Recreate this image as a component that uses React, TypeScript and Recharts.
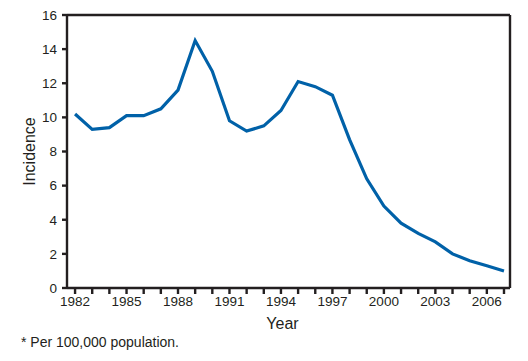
import React from 'react';
import { LineChart, Line, XAxis, YAxis, ReferenceLine } from 'recharts';

const years = [1982, 1983, 1984, 1985, 1986, 1987, 1988, 1989, 1990, 1991, 1992, 1993, 1994, 1995, 1996, 1997, 1998, 1999, 2000, 2001, 2002, 2003, 2004, 2005, 2006, 2007];
const incidence = [10.2, 9.3, 9.4, 10.1, 10.1, 10.5, 11.6, 14.5, 12.7, 9.8, 9.2, 9.5, 10.4, 12.1, 11.8, 11.3, 8.7, 6.4, 4.8, 3.8, 3.2, 2.7, 2.0, 1.6, 1.3, 1.0];
const yTicks = [0, 2, 4, 6, 8, 10, 12, 14, 16];
const xLabelYears = [1982, 1985, 1988, 1991, 1994, 1997, 2000, 2003, 2006];

const data = years.map((y, i) => ({ year: y, value: incidence[i] }));

const FONT = 'Arial, "Liberation Sans", Helvetica, sans-serif';
const AXIS = '#231f20';
const X_MIN = 1981.53;
const X_MAX = 2007.35;

export default function App() {
  return (
    <div style={{ position: 'fixed', left: 0, top: 0, width: 528, height: 361, background: '#fff', fontFamily: FONT }}>
      <LineChart width={528} height={361} data={data} margin={{ top: 15, right: 18, left: 0, bottom: 43 }}>
        <XAxis
          dataKey="year"
          type="number"
          domain={[X_MIN, X_MAX]}
          ticks={years}
          interval={0}
          tickFormatter={(v: number) => (xLabelYears.includes(v) ? String(v) : '')}
          tick={{ fontSize: 13.5, fill: AXIS, fontFamily: FONT }}
          tickSize={6}
          tickMargin={2}
          tickLine={{ stroke: AXIS, strokeWidth: 2.4 }}
          axisLine={{ stroke: AXIS, strokeWidth: 2.4 }}
          height={30}
          label={{ value: 'Year', position: 'insideBottom', offset: -11, fontSize: 16, fill: AXIS, fontFamily: FONT, dx: -6 }}
        />
        <YAxis
          domain={[0, 16]}
          ticks={yTicks}
          interval={0}
          tick={{ fontSize: 13.5, fill: AXIS, fontFamily: FONT }}
          tickSize={5}
          tickMargin={5}
          tickLine={{ stroke: AXIS, strokeWidth: 2.4 }}
          axisLine={{ stroke: AXIS, strokeWidth: 2.4 }}
          width={67}
          label={{ value: 'Incidence', angle: -90, position: 'insideLeft', offset: 29, fontSize: 16, fill: AXIS, fontFamily: FONT, style: { textAnchor: 'middle' } }}
        />
        <ReferenceLine y={16} stroke={AXIS} strokeWidth={2.4} />
        <ReferenceLine x={X_MAX} stroke={AXIS} strokeWidth={2.4} />
        <Line
          type="linear"
          dataKey="value"
          stroke="#0061a8"
          strokeWidth={3.2}
          dot={false}
          isAnimationActive={false}
        />
      </LineChart>
      <div style={{ position: 'absolute', left: 21, top: 334, fontSize: 14, color: AXIS, fontFamily: FONT }}>
        * Per 100,000 population.
      </div>
    </div>
  );
}
